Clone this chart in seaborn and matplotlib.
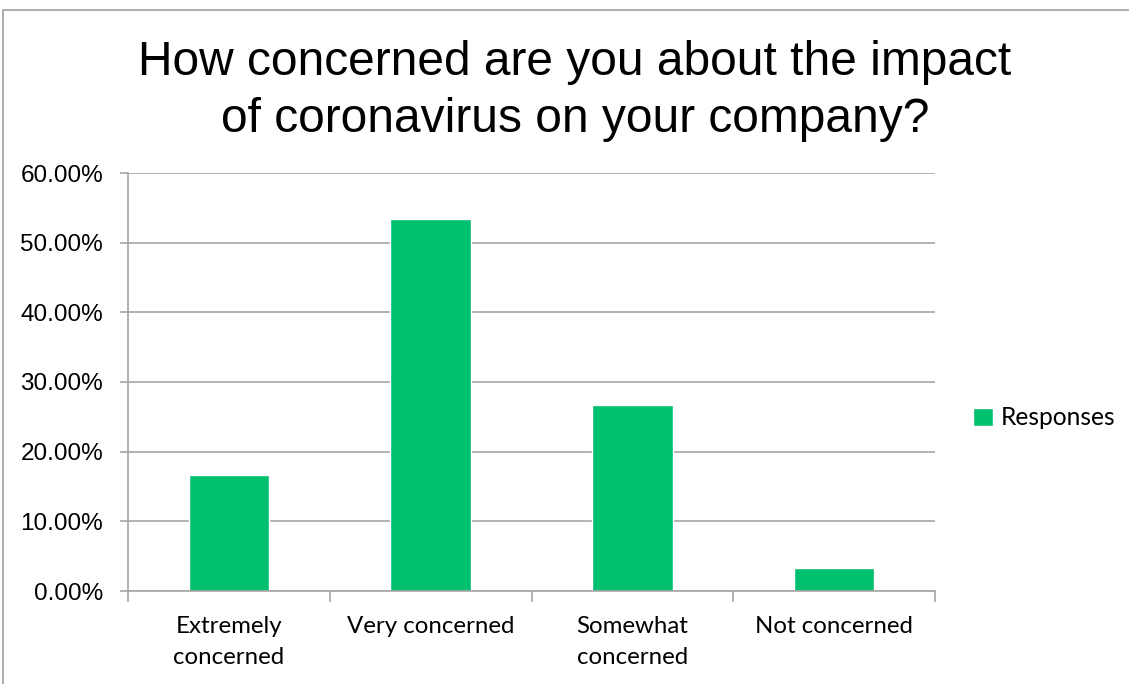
import numpy as np
import pandas as pd
import seaborn as sns
import matplotlib.pyplot as plt
from matplotlib.lines import Line2D
from matplotlib.ticker import PercentFormatter, FixedLocator

categories = ['Extremely\nconcerned', 'Very concerned', 'Somewhat\nconcerned', 'Not concerned']
responses = [16.67, 53.33, 26.67, 3.33]
y_ticks = [0, 10, 20, 30, 40, 50, 60]

sns.set_theme(style='white')
plt.rcParams['font.family'] = ['Liberation Sans', 'DejaVu Sans']
plt.rcParams['text.color'] = 'black'
plt.rcParams['xtick.labelcolor'] = 'black'
plt.rcParams['ytick.labelcolor'] = 'black'

df = pd.DataFrame({'category': categories, 'value': responses})

fig = plt.figure(figsize=(11.29, 6.84), dpi=100)
ax = fig.add_axes([128 / 1129, 1 - 591 / 684, (935 - 128) / 1129, (591 - 173) / 684])

sns.barplot(data=df, x='category', y='value', color='#00BF6F', width=0.4,
            saturation=1, label='Responses', ax=ax)

ax.set_ylim(0, 60)
ax.set_xlim(-0.5, 3.5)
ax.set_yticks(y_ticks)
ax.yaxis.set_major_formatter(PercentFormatter(decimals=2))
ax.grid(axis='y', color='#A6A6A6', linewidth=1.2)
ax.set_axisbelow(True)
ax.set_xlabel('')
ax.set_ylabel('')

for s in ['top', 'right']:
    ax.spines[s].set_visible(False)
for s in ['left', 'bottom']:
    ax.spines[s].set_color('#A6A6A6')
    ax.spines[s].set_linewidth(1.2)

ax.tick_params(axis='y', left=True, length=6, width=1.2, color='#A6A6A6',
               labelsize=17.5, pad=12)
ax.tick_params(axis='x', which='major', bottom=False, labelsize=17.3, pad=12)
ax.xaxis.set_minor_locator(FixedLocator([-0.5, 0.5, 1.5, 2.5, 3.5]))
ax.tick_params(axis='x', which='minor', bottom=True, length=8, width=1.2, color='#A6A6A6')
for lab in ax.get_xticklabels():
    lab.set_family(['Lato', 'DejaVu Sans'])
    lab.set_linespacing(1.58)

fig.suptitle('How concerned are you about the impact\nof coronavirus on your company?',
             x=575 / 1129, y=1 - 40 / 684, fontsize=34.5, linespacing=1.33, va='top',
             color='black')

leg = ax.legend(loc='center left', bbox_to_anchor=(1.02, 0.414), frameon=False,
                handlelength=0.8, handleheight=0.8, handletextpad=0.3,
                prop={'family': 'Lato', 'size': 17.7})

# chart frame (left and top edges visible)
fig.add_artist(Line2D([3 / 1129, 3 / 1129], [0, 1 - 10 / 684], transform=fig.transFigure,
                      color='#A0A0A0', linewidth=1.2))
fig.add_artist(Line2D([3 / 1129, 1], [1 - 10 / 684, 1 - 10 / 684], transform=fig.transFigure,
                      color='#A0A0A0', linewidth=1.2))

fig.savefig('out.png', dpi=100, facecolor='white')
